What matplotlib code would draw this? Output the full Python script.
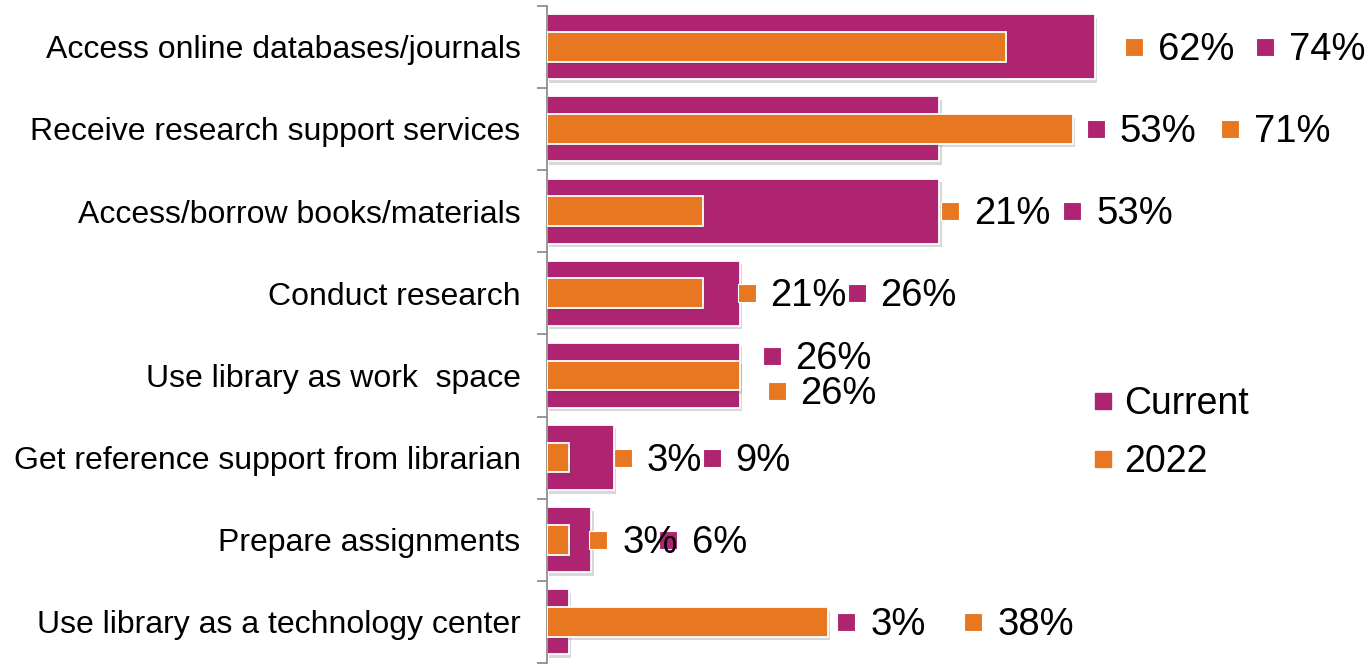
import matplotlib
matplotlib.use("Agg")
import matplotlib.pyplot as plt
import matplotlib.patheffects as pe
from matplotlib.lines import Line2D
from matplotlib.transforms import offset_copy

plt.rcParams['font.family'] = ['Liberation Sans', 'DejaVu Sans']

categories = ["Access online databases/journals",
              "Receive research support services",
              "Access/borrow books/materials",
              "Conduct research",
              "Use library as work  space",
              "Get reference support from librarian",
              "Prepare assignments",
              "Use library as a technology center"]
current = [74, 53, 53, 26, 26, 9, 6, 3]
y2022 = [62, 71, 21, 21, 26, 3, 3, 38]

purple = '#AE2471'
orange = '#E87722'

# label placement (pixels from the longer bar's end), tuned by eye
cur_dx = [170, 23, 133, 117, 32, 98, 77, 18]
old_dx = [39, 157, 11, 7, 37, 9, 7, 145]
cur_dy = [0, 0, 0, 0, 19, 0, 0, 0]
old_dy = [0, 0, 0, 0, -16, 0, 0, 0]

fig = plt.figure(figsize=(13.72, 6.64), dpi=100)
ax = fig.add_axes([547/1372, 1 - 663/664, 1 - 547/1372, (663 - 5.7)/664])

shadow = [pe.SimplePatchShadow(offset=(1.5, -2.5), shadow_rgbFace='#505050', alpha=0.22), pe.Normal()]
ypos = list(range(len(categories)))
ax.barh(ypos, current, height=0.79, color=purple, edgecolor='white', linewidth=1.3,
        path_effects=shadow, zorder=2)
ax.barh(ypos, y2022, height=0.36, color=orange, edgecolor='white', linewidth=1.3,
        path_effects=shadow, zorder=3)

ax.set_xlim(0, 825/7.405)
ax.set_ylim(len(categories) - 0.5, -0.5)

for i in ypos:
    end = max(current[i], y2022[i])
    for val, dx, dy, col in [(current[i], cur_dx[i], cur_dy[i], purple),
                             (y2022[i], old_dx[i], old_dy[i], orange)]:
        tr = offset_copy(ax.transData, fig=fig, x=dx, y=dy, units='dots')
        ax.plot(end, i, marker='s', ms=12.5, color=col, mec='white', mew=0.8,
                transform=tr, clip_on=False, zorder=4)
        tr2 = offset_copy(ax.transData, fig=fig, x=dx + 24, y=dy - 3, units='dots')
        ax.text(end, i, f"{val}%", transform=tr2, fontsize=27.5, va='center',
                ha='left', color='black', zorder=4)

for s in ['top', 'right', 'bottom']:
    ax.spines[s].set_visible(False)
ax.spines['left'].set_color('#868686')
ax.spines['left'].set_linewidth(1.2)
ax.set_xticks([])
ax.set_yticks([k - 0.5 for k in range(len(categories) + 1)])
ax.set_yticklabels([])
ax.tick_params(axis='y', which='major', length=7.5, width=1.2, color='#868686')
ax.set_yticks(ypos, minor=True)
ax.set_yticklabels(categories, minor=True, fontsize=23)
ax.tick_params(axis='y', which='minor', length=0, pad=19)

handles = [Line2D([], [], marker='s', ls='none', ms=12, color=purple),
           Line2D([], [], marker='s', ls='none', ms=12, color=orange)]
fig.legend(handles, ['Current', '2022'], loc='upper left',
           bbox_to_anchor=(1094/1372, 1 - 386/664), frameon=False, fontsize=27,
           handlelength=0.5, handletextpad=0.3, labelspacing=0.6, borderpad=0,
           borderaxespad=0)

fig.savefig('out.png', dpi=100)
